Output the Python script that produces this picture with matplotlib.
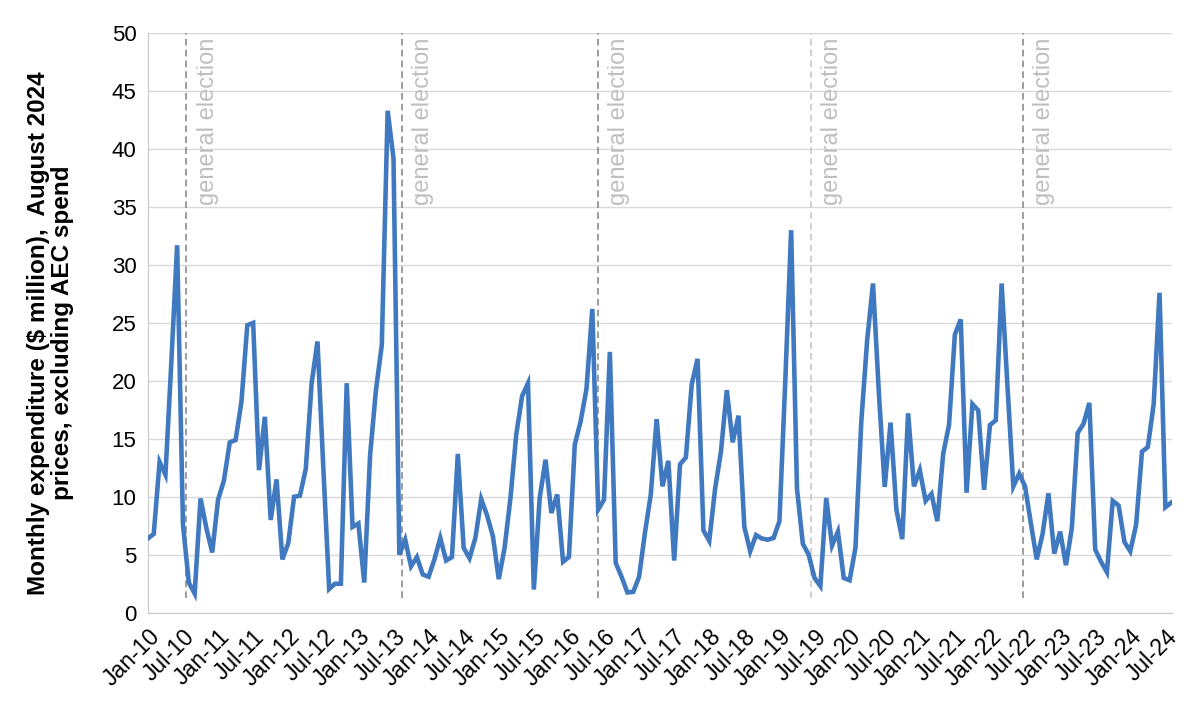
import matplotlib.pyplot as plt
import numpy as np
import pandas as pd

plt.rcParams['font.family'] = ['Liberation Sans', 'DejaVu Sans']

# Monthly spend, Jan-2010 .. Aug-2024 ($ million, Aug 2024 prices)
spend = [
    6.4, 6.8, 13.0, 11.9, 21.5, 31.7, 7.6, 2.6, 1.65, 9.85, 7.3, 5.2,
    9.75, 11.4, 14.7, 14.9, 18.2, 24.8, 25.0, 12.3, 16.9, 8.0, 11.5, 4.6,
    6.0, 10.0, 10.1, 12.4, 19.8, 23.4, 12.5, 2.05, 2.5, 2.5, 19.8, 7.4,
    7.7, 2.6, 13.6, 19.2, 23.1, 43.3, 39.2, 5.0, 6.3, 4.0, 4.8, 3.3,
    3.1, 4.6, 6.45, 4.5, 4.8, 13.7, 5.6, 4.7, 6.45, 9.8, 8.4, 6.6,
    2.9, 5.6, 9.9, 15.4, 18.7, 19.8, 2.0, 9.9, 13.2, 8.6, 10.2, 4.4,
    4.8, 14.5, 16.5, 19.3, 26.2, 8.9, 9.75, 22.5, 4.3, 3.1, 1.75, 1.8,
    3.1, 6.9, 10.2, 16.7, 10.9, 13.1, 4.5, 12.8, 13.4, 19.7, 21.9, 7.1,
    6.2, 10.7, 13.9, 19.2, 14.7, 17.0, 7.4, 5.3, 6.7, 6.4, 6.3, 6.45,
    7.9, 20.0, 33.0, 10.7, 5.95, 5.0, 3.0, 2.3, 9.9, 5.8, 7.0, 3.0,
    2.8, 5.6, 16.5, 23.5, 28.4, 19.0, 10.85, 16.4, 8.9, 6.35, 17.2, 10.9,
    12.3, 9.65, 10.25, 7.9, 13.7, 16.2, 24.0, 25.3, 10.35, 18.0, 17.45, 10.6,
    16.2, 16.6, 28.4, 19.5, 10.9, 12.0, 10.9, 7.7, 4.6, 6.8, 10.3, 5.1,
    7.0, 4.1, 7.3, 15.5, 16.3, 18.1, 5.45, 4.4, 3.5, 9.65, 9.25, 6.1,
    5.3, 7.6, 13.9, 14.3, 18.0, 27.6, 9.1, 9.5,
]

# month labels for the x axis
months = pd.date_range('2010-01-01', periods=len(spend), freq='MS')
month_labels = [m.strftime('%b-%y') for m in months]

# general elections, as month index from Jan-10
election_idx = [6.6, 43.4, 77.0, 113.4, 149.7]
election_colors = ['#8c8c8c', '#8c8c8c', '#8c8c8c', '#c8c8c8', '#8c8c8c']
election_text = 'general election'

fig, ax = plt.subplots(figsize=(12, 7.2), dpi=100)
fig.subplots_adjust(left=0.123, right=0.977, top=0.954, bottom=0.149)

x = np.arange(len(spend))
ax.plot(x, spend, color='#4079c0', linewidth=3.3, solid_joinstyle='miter', zorder=3)

for xe, c in zip(election_idx, election_colors):
    ax.vlines(xe, 1.3, 50, colors=c, linestyles=(0, (4, 2.5)), linewidth=1.2, zorder=2)
    ax.text(xe + 3.6, 49.6, election_text, rotation=90, ha='center', va='top',
            fontsize=17, color='#bfbfbf', zorder=2)

# axes
ax.set_xlim(-0.05, 175.2)
ax.set_ylim(0, 50)
ax.set_yticks(np.arange(0, 51, 5))
ax.set_xticks(x[::6])
ax.set_xticklabels(month_labels[::6], rotation=45, ha='right',
                   rotation_mode='anchor', fontsize=16.5)
ax.tick_params(axis='y', labelsize=16, length=0, pad=8)
ax.tick_params(axis='x', length=0, pad=9)
ax.grid(axis='y', color='#d9d9d9', linewidth=1.0, zorder=0)
ax.set_axisbelow(True)
for s in ['top', 'right']:
    ax.spines[s].set_visible(False)
ax.spines['left'].set_color('#c8c8c8')
ax.spines['bottom'].set_color('#c8c8c8')

fig.text(0.042, 0.5375,
         'Monthly expenditure ($ million),  August 2024\nprices, excluding AEC spend',
         rotation=90, ha='center', va='center', multialignment='center',
         fontsize=17.5, fontweight='bold', linespacing=1.05)

fig.savefig('out.png', dpi=100)
